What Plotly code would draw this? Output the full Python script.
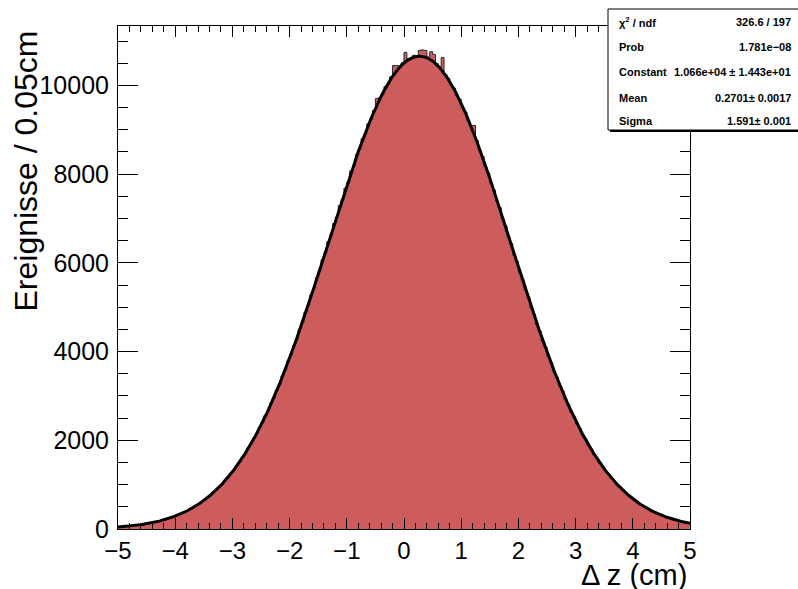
import numpy as np
import plotly.graph_objects as go

# Histogram binning: 200 bins of 0.05 cm between -5 and 5 cm
x_min, x_max, n_bins = -5.0, 5.0, 200

counts = [
    44, 55, 54, 66, 68, 80, 83, 97, 101, 117,
    121, 140, 147, 169, 176, 201, 211, 239, 252, 284,
    298, 336, 352, 394, 415, 462, 487, 540, 569, 628,
    660, 727, 765, 838, 884, 964, 1015, 1104, 1160, 1258,
    1321, 1432, 1500, 1620, 1695, 1826, 1910, 2050, 2142, 2291,
    2394, 2555, 2662, 2834, 2950, 3135, 3258, 3452, 3580, 3785,
    3921, 4138, 4275, 4500, 4645, 4880, 5030, 5270, 5420, 5665,
    5820, 6070, 6225, 6478, 6630, 6884, 7035, 7290, 7430, 7685,
    7820, 8075, 8200, 8445, 8565, 8800, 8910, 9135, 9230, 9440,
    9707, 9720, 9790, 9975, 10020, 10195, 10451, 10450, 10390, 10510,
    10745, 10610, 10590, 10680, 10640, 10790, 10800, 10790, 10640, 10760,
    10700, 10490, 10420, 10632, 10250, 10160, 10005, 9940, 9770, 9690,
    9500, 9400, 9200, 9090, 9100, 8755, 8530, 8400, 8165, 8025,
    7785, 7640, 7390, 7245, 6990, 6840, 6585, 6435, 6180, 6030,
    5775, 5625, 5380, 5230, 4985, 4840, 4605, 4465, 4235, 4100,
    3880, 3755, 3540, 3420, 3220, 3105, 2915, 2808, 2630, 2528,
    2362, 2268, 2113, 2027, 1884, 1805, 1672, 1600, 1478, 1413,
    1302, 1243, 1142, 1088, 998, 950, 868, 826, 752, 715,
    650, 617, 558, 530, 478, 454, 408, 387, 346, 329,
    293, 278, 247, 235, 207, 197, 173, 165, 145, 138,
]

# Gaussian fit results
fit_constant = 1.066e4
fit_mean = 0.2701
fit_sigma = 1.591

stats_labels = ["χ<sup>2</sup> / ndf", "Prob", "Constant", "Mean", "Sigma"]
stats_values = ["326.6 / 197", "1.781e−08", "1.066e+04 ± 1.443e+01",
                "0.2701± 0.0017", "1.591± 0.001"]

y_max = 11340

edges = np.linspace(x_min, x_max, n_bins + 1)
step_x = list(edges)
step_y = list(counts) + [counts[-1]]

fit_x = np.linspace(x_min, x_max, 600)
fit_y = fit_constant * np.exp(-0.5 * ((fit_x - fit_mean) / fit_sigma) ** 2)

FONT = "Liberation Sans, Arial, Helvetica, sans-serif"

fig = go.Figure()
fig.add_trace(go.Scatter(
    x=step_x, y=step_y, mode="lines", line_shape="hv",
    line=dict(color="#2a2a2a", width=1),
    fill="tozeroy", fillcolor="#CD5C5C", hoverinfo="skip",
))
fig.add_trace(go.Scatter(
    x=fit_x, y=fit_y, mode="lines",
    line=dict(color="black", width=3), hoverinfo="skip",
))

L, R, T, B = 118, 108, 26, 60
W, H = 798, 589
pw, ph = W - L - R, H - T - B


def px_x(px):
    return (px - L) / pw


def px_y(py):
    return (H - B - py) / ph


fig.update_layout(
    width=W, height=H,
    margin=dict(l=L, r=R, t=T, b=B),
    paper_bgcolor="white", plot_bgcolor="white",
    showlegend=False,
    font=dict(family=FONT, color="black"),
)
fig.update_xaxes(
    range=[x_min, x_max], showgrid=False, zeroline=False,
    showline=True, linecolor="black", linewidth=1, mirror="ticks",
    ticks="inside", ticklen=11, tickwidth=1, tickcolor="black",
    tick0=-5, dtick=1, tickfont=dict(size=24, family=FONT),
    minor=dict(ticks="inside", ticklen=6, dtick=0.2, tickcolor="black", tickwidth=1),
    ticklabelstandoff=0,
)
fig.update_yaxes(
    range=[0, y_max], showgrid=False, zeroline=False,
    showline=True, linecolor="black", linewidth=1, mirror="ticks",
    ticks="inside", ticklen=20, tickwidth=1, tickcolor="black",
    tick0=0, dtick=2000, tickformat="d", tickfont=dict(size=25, family=FONT),
    minor=dict(ticks="inside", ticklen=10, dtick=500, tickcolor="black", tickwidth=1),
    ticklabelstandoff=3,
)

annotations = [
    dict(text="Ereignisse / 0.05cm", textangle=-90, xref="paper", yref="paper",
         x=px_x(26), y=px_y(29), xanchor="center", yanchor="top",
         showarrow=False, font=dict(size=32, family=FONT)),
    dict(text="Δ z (cm)", xref="paper", yref="paper",
         x=px_x(689), y=px_y(575), xanchor="right", yanchor="middle",
         showarrow=False, font=dict(size=29, family=FONT)),
]

row_py = [22, 47, 72, 98, 121]
for lab, val, py in zip(stats_labels, stats_values, row_py):
    annotations.append(dict(text="<b>%s</b>" % lab, xref="paper", yref="paper",
                            x=px_x(617), y=px_y(py), xanchor="left", yanchor="middle",
                            showarrow=False, font=dict(size=11, family=FONT)))
    annotations.append(dict(text="<b>%s</b>" % val, xref="paper", yref="paper",
                            x=px_x(793), y=px_y(py), xanchor="right", yanchor="middle",
                            showarrow=False, font=dict(size=11, family=FONT)))

shapes = [
    dict(type="rect", xref="paper", yref="paper", layer="above",
         x0=px_x(610), x1=px_x(810), y0=px_y(132), y1=px_y(11),
         fillcolor="black", line=dict(width=0)),
    dict(type="rect", xref="paper", yref="paper", layer="above",
         x0=px_x(608), x1=px_x(810), y0=px_y(130), y1=px_y(9),
         fillcolor="white", line=dict(color="black", width=1)),
]

fig.update_layout(annotations=annotations, shapes=shapes)

fig.write_html("out.html")
